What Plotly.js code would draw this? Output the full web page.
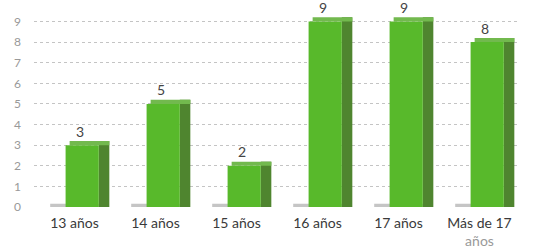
<!DOCTYPE html>
<html><head><meta charset="utf-8">
<script src="https://cdn.plot.ly/plotly-3.0.1.min.js"></script>
<style>html,body{margin:0;padding:0;background:#fff}</style>
</head><body>
<div id="chart" style="width:539px;height:248px"></div>
<script>
const categories = ["13 años", "14 años", "15 años", "16 años", "17 años", "Más de 17<br><span style='color:#999'>años</span>"];
const values = [3, 5, 2, 9, 9, 8];
const labels = ["3", "5", "2", "9", "9", "8"];
const yTicks = [0, 1, 2, 3, 4, 5, 6, 7, 8, 9];

const idx = categories.map((_, i) => i);
const depth = 0.2;

const frontTrace = {
  type: 'bar', x: idx, y: values, offset: -0.11, width: 0.41,
  marker: {color: '#58b92b', line: {width: 0}}, hoverinfo: 'skip'
};
const sideTrace = {
  type: 'bar', x: idx, y: values.map(v => v + depth), offset: 0.30, width: 0.13,
  marker: {color: '#4f852f', line: {width: 0}}, hoverinfo: 'skip'
};
const capTrace = {
  type: 'bar', x: idx, y: values.map(() => depth), base: values,
  offset: -0.06, width: 0.49,
  marker: {color: '#72b94e', line: {width: 0}}, hoverinfo: 'skip'
};
const shadowTrace = {
  type: 'bar', x: idx, y: values.map(() => 0.16), base: values.map(() => 0),
  offset: -0.30, width: 0.62,
  marker: {color: 'rgba(90,90,90,0.35)', line: {width: 0}}, hoverinfo: 'skip'
};
const textTrace = {
  type: 'scatter', mode: 'text', x: idx.map(i => i + 0.07), y: values.map(v => v + 0.58),
  text: labels, textfont: {family: 'Lato, sans-serif', size: 14, color: '#444'},
  cliponaxis: false, hoverinfo: 'skip'
};

const layout = {
  width: 539, height: 248,
  margin: {l: 34, r: 19, t: 6, b: 41},
  paper_bgcolor: '#fff', plot_bgcolor: '#fff',
  showlegend: false, barmode: 'overlay',
  font: {family: 'Lato, sans-serif'},
  xaxis: {
    type: 'linear', range: [-0.5, 5.5], tickvals: idx, ticktext: categories,
    showgrid: false, zeroline: false, showline: false, ticks: '',
    tickfont: {size: 14, color: '#3a3a3a'}, ticklabelstandoff: 6
  },
  yaxis: {
    range: [0, 9.75], tickvals: yTicks, showline: false, zeroline: false,
    gridcolor: '#c4c4c4', griddash: 'dot', gridwidth: 1,
    tickfont: {size: 12, color: '#999'}, ticklabelstandoff: 12
  }
};

Plotly.newPlot('chart', [shadowTrace, sideTrace, frontTrace, capTrace, textTrace], layout, {displayModeBar: false, staticPlot: true});
</script>
</body></html>
